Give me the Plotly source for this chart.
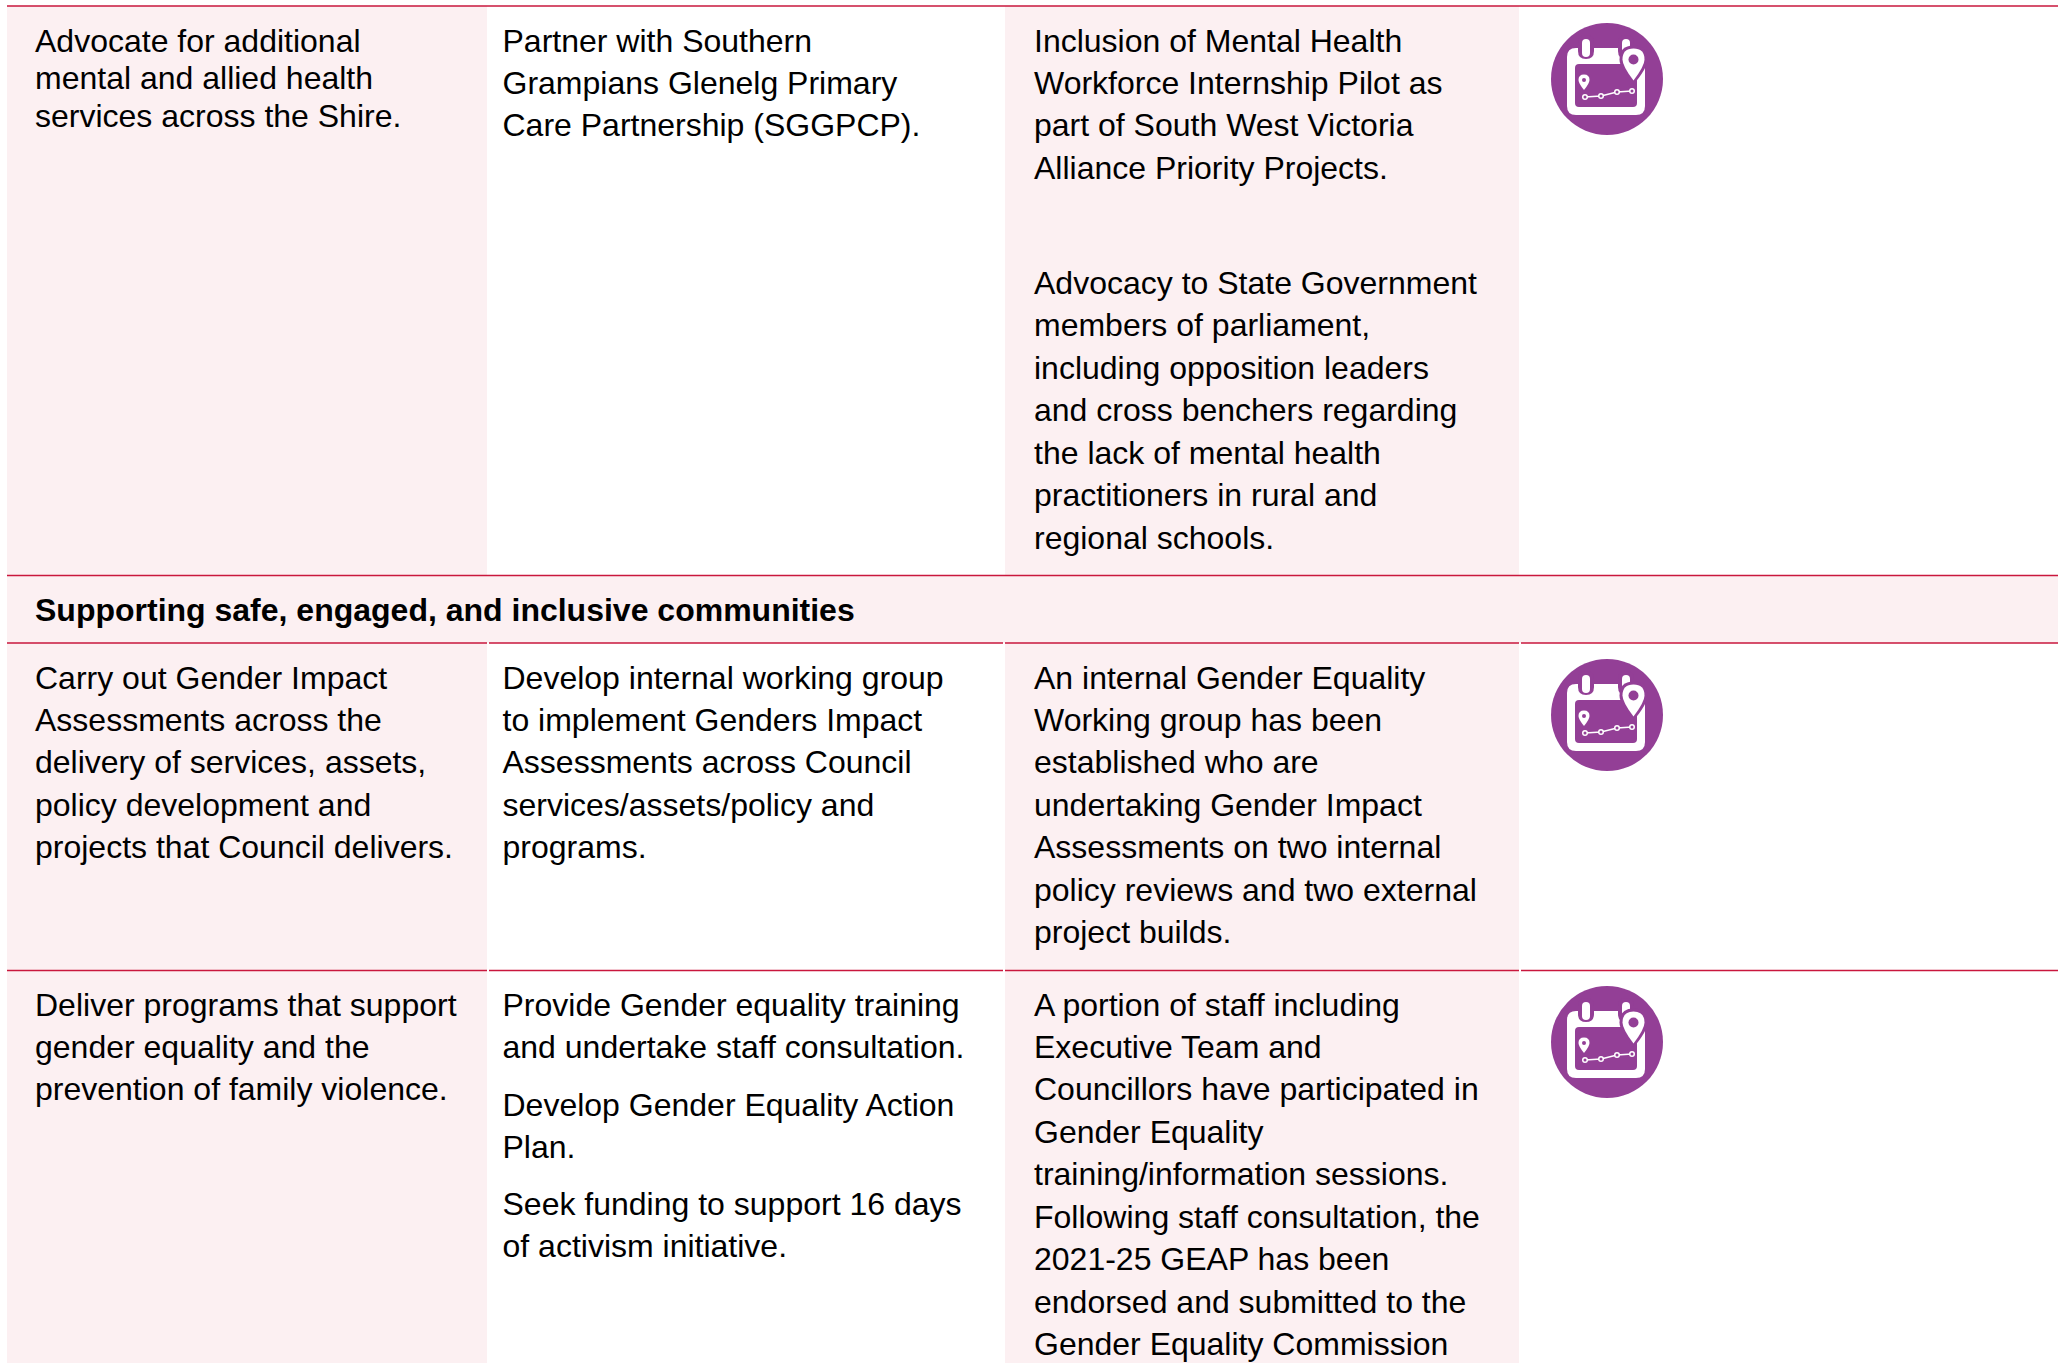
import plotly.graph_objects as go

# ---- table content ----
section_title = "Supporting safe, engaged, and inclusive communities"

row1_col1 = ["Advocate for additional", "mental and allied health", "services across the Shire."]
row1_col2 = ["Partner with Southern", "Grampians Glenelg Primary", "Care Partnership (SGGPCP)."]
row1_col3a = ["Inclusion of Mental Health", "Workforce Internship Pilot as", "part of South West Victoria",
              "Alliance Priority Projects."]
row1_col3b = ["Advocacy to State Government", "members of parliament,", "including opposition leaders",
              "and cross benchers regarding", "the lack of mental health",
              "practitioners in rural and", "regional schools."]
row2_col1 = ["Carry out Gender Impact", "Assessments across the", "delivery of services, assets,",
             "policy development and", "projects that Council delivers."]
row2_col2 = ["Develop internal working group", "to implement Genders Impact", "Assessments across Council",
             "services/assets/policy and", "programs."]
row2_col3 = ["An internal Gender Equality", "Working group has been", "established who are",
             "undertaking Gender Impact", "Assessments on two internal",
             "policy reviews and two external", "project builds."]
row3_col1 = ["Deliver programs that support", "gender equality and the", "prevention of family violence."]
row3_col2a = ["Provide Gender equality training", "and undertake staff consultation."]
row3_col2b = ["Develop Gender Equality Action", "Plan."]
row3_col2c = ["Seek funding to support 16 days", "of activism initiative."]
row3_col3 = ["A portion of staff including", "Executive Team and", "Councillors have participated in",
             "Gender Equality", "training/information sessions.", "Following staff consultation, the",
             "2021-25 GEAP has been", "endorsed and submitted to the", "Gender Equality Commission"]

# ---- layout (pixels) ----
W, H = 2065, 1363
PINK, RED, PURPLE = "#FCF0F2", "#C9173D", "#933F96"
FONT = "Liberation Sans"
SIZE = 32
X1, X2, X3 = 35, 502.5, 1034
LEAD = 42.45
RULES = [6, 575.5, 643, 970.5]

blocks = [
    (X1, 43.5, 37.8, row1_col1), (X2, 43.5, LEAD, row1_col2),
    (X3, 43.5, LEAD, row1_col3a), (X3, 286, LEAD, row1_col3b),
    (X1, 680.5, LEAD, row2_col1), (X2, 680.5, LEAD, row2_col2), (X3, 680.5, LEAD, row2_col3),
    (X1, 1007.5, LEAD, row3_col1), (X2, 1007.5, LEAD, row3_col2a),
    (X2, 1107.5, LEAD, row3_col2b), (X2, 1206.5, LEAD, row3_col2c), (X3, 1007.5, LEAD, row3_col3),
]

fig = go.Figure()
xs, ys, ts = [], [], []
for x, y0, lead, lines in blocks:
    for i, t in enumerate(lines):
        xs.append(x); ys.append(y0 + i * lead); ts.append(t)
fig.add_trace(go.Scatter(x=xs, y=ys, text=ts, mode="text", textposition="middle right",
                         textfont=dict(family=FONT, size=SIZE, color="#000"),
                         hoverinfo="skip", showlegend=False, cliponaxis=False))
fig.add_trace(go.Scatter(x=[X1], y=[612.5], text=[section_title], mode="text", textposition="middle right",
                         textfont=dict(family=FONT, size=SIZE, color="#000", weight="bold"),
                         hoverinfo="skip", showlegend=False, cliponaxis=False))

shapes = []
def rect(x0, y0, x1, y1, c):
    shapes.append(dict(type="rect", x0=x0, y0=y0, x1=x1, y1=y1, fillcolor=c, line_width=0, layer="below"))
def line(x0, x1, y):
    shapes.append(dict(type="line", x0=x0, x1=x1, y0=y, y1=y, line=dict(color=RED, width=1.5), layer="below"))

# cell fills
rect(7, 6, 487, H, PINK)
rect(1005, 6, 1519, 575, PINK)
rect(7, 575, 2058, 643, PINK)
rect(1005, 643, 1519, H, PINK)
# rules
line(7, 2058, RULES[0]); line(7, 2058, RULES[1])
for y in RULES[2:]:
    for a, b in [(7, 487), (489, 1003), (1005, 1519), (1521, 2058)]:
        line(a, b, y)

def circle(cx, cy, r, c):
    shapes.append(dict(type="circle", x0=cx - r, x1=cx + r, y0=cy - r, y1=cy + r,
                       fillcolor=c, line_width=0))
def rrect(x0, y0, x1, y1, r, c):
    shapes.append(dict(type="path", fillcolor=c, line_width=0,
        path=f"M{x0+r},{y0} L{x1-r},{y0} Q{x1},{y0} {x1},{y0+r} L{x1},{y1-r} Q{x1},{y1} {x1-r},{y1} "
             f"L{x0+r},{y1} Q{x0},{y1} {x0},{y1-r} L{x0},{y0+r} Q{x0},{y0} {x0+r},{y0} Z"))
def pin(cx, cy, r, tip, hole, c, h):
    shapes.append(dict(type="path", fillcolor=c, line_width=0,
        path=f"M{cx-r},{cy} Q{cx-r},{cy-r} {cx},{cy-r} Q{cx+r},{cy-r} {cx+r},{cy} Q{cx+r},{cy+r*0.6} {cx},{cy+tip} "
             f"Q{cx-r},{cy+r*0.6} {cx-r},{cy} Z"))
    circle(cx, cy, hole, h)

def icon(cx, cy):
    W_ = "#FFFFFF"
    circle(cx, cy, 56, PURPLE)
    rrect(cx - 40, cy - 31, cx + 38, cy + 36, 9, W_)
    rrect(cx - 32, cy - 15, cx + 30, cy + 28, 4, PURPLE)
    rrect(cx - 29, cy - 44, cx - 13, cy - 20, 8, PURPLE)
    rrect(cx - 25, cy - 40, cx - 17, cy - 22, 4, W_)
    rrect(cx + 11, cy - 44, cx + 27, cy - 20, 8, PURPLE)
    rrect(cx + 15, cy - 40, cx + 23, cy - 26, 4, W_)
    pin(cx + 26.5, cy - 19.5, 14, 25, 0.1, PURPLE, PURPLE)
    pin(cx + 26.5, cy - 19.5, 11, 21, 5, W_, PURPLE)
    pin(cx - 23, cy + 1, 5.5, 10, 2, W_, PURPLE)
    pts = [(-22, 18), (-6, 17), (10, 13), (25, 12)]
    shapes.append(dict(type="path", line=dict(color=W_, width=1.6),
                       path="M" + " L".join(f"{cx+a},{cy+b}" for a, b in pts)))
    for a, b in pts:
        circle(cx + a, cy + b, 3, W_)
        circle(cx + a, cy + b, 1.5, PURPLE)

ICON_X = 1607
for cy in (79, 715, 1042):
    icon(ICON_X, cy)

fig.update_layout(width=W, height=H, margin=dict(l=0, r=0, t=0, b=0), paper_bgcolor="#fff", plot_bgcolor="#fff",
                  shapes=shapes, showlegend=False,
                  xaxis=dict(range=[0, W], visible=False, fixedrange=True),
                  yaxis=dict(range=[H, 0], visible=False, fixedrange=True))
fig.write_html("out.html", config=dict(displayModeBar=False),
               post_script="document.body.style.margin='0';document.body.style.overflow='hidden';")
